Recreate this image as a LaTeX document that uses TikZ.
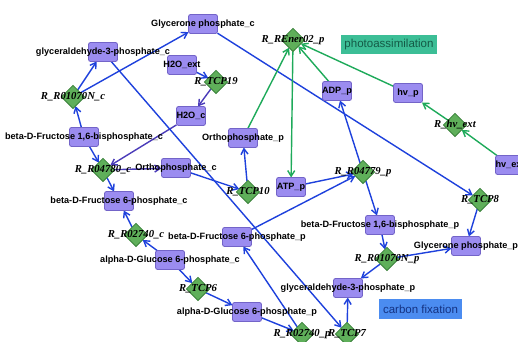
\documentclass[tikz,border=0pt]{standalone}
\usepackage{fontspec}
\setmainfont{Liberation Serif}
\setsansfont{Liberation Sans}
\usepackage{tikz-network}
\usetikzlibrary{shapes.geometric,arrows.meta}

\definecolor{metabfill}{RGB}{155,140,240}
\definecolor{metabline}{RGB}{115,100,200}
\definecolor{rxnfill}{RGB}{95,175,90}
\definecolor{rxnline}{RGB}{60,130,60}
\definecolor{fluxblue}{RGB}{30,65,220}
\definecolor{fluxgreen}{RGB}{30,170,90}
\definecolor{fluxpurple}{RGB}{75,60,185}
\definecolor{photofill}{RGB}{60,190,150}
\definecolor{phototext}{RGB}{20,90,70}
\definecolor{carbfill}{RGB}{75,140,240}
\definecolor{carbtext}{RGB}{20,50,130}

\newcommand{\metabfont}{\fontsize{6.5}{7}\selectfont\sffamily\bfseries}
\newcommand{\rxnfont}{\fontsize{7.6}{8}\selectfont\rmfamily\bfseries\itshape}
\newcommand{\areafont}{\fontsize{8.2}{9}\selectfont\sffamily}

\tikzset{
  metabbox/.style={rectangle, rounded corners=1.5pt, minimum width=0.725cm, minimum height=0.475cm, fill=metabfill, draw=metabline},
  rxndia/.style={diamond, minimum size=0.58cm, fill=rxnfill, draw=rxnline},
  flux/.style={-{Straight Barb[length=4pt,width=5pt]}},
  areabox/.style={rectangle, inner sep=0pt, minimum height=0.48cm},
}

\begin{document}
\begin{tikzpicture}

\SetVertexStyle[LineWidth=0.6, OuterSep=0, InnerSep=0]
\SetEdgeStyle[Color=fluxblue, LineWidth=1]

\useasboundingbox (0,0) rectangle (12.95,8.55);

% metabolites, cytosol
\Vertex[x=5.075,y=7.95,label={Glycerone phosphate\_c},position=center,fontsize=\metabfont,style={metabbox}]{GlyP_c}
\Vertex[x=2.575,y=7.25,label={glyceraldehyde-3-phosphate\_c},position=center,fontsize=\metabfont,style={metabbox}]{GAP_c}
\Vertex[x=4.55,y=6.925,label={H2O\_ext},position=center,fontsize=\metabfont,style={metabbox}]{H2O_ext}
\Vertex[x=4.775,y=5.65,label={H2O\_c},position=center,fontsize=\metabfont,style={metabbox}]{H2O_c}
\Vertex[x=2.1,y=5.125,label={beta-D-Fructose 1,6-bisphosphate\_c},position=center,fontsize=\metabfont,style={metabbox}]{FBP_c}
\Vertex[x=4.4,y=4.35,label={Orthophosphate\_c},position=center,fontsize=\metabfont,style={metabbox}]{Pi_c}
\Vertex[x=2.975,y=3.525,label={beta-D-Fructose 6-phosphate\_c},position=center,fontsize=\metabfont,style={metabbox}]{F6P_c}
\Vertex[x=4.25,y=2.05,label={alpha-D-Glucose 6-phosphate\_c},position=center,fontsize=\metabfont,style={metabbox}]{G6P_c}

% metabolites, plastid
\Vertex[x=6.175,y=0.75,label={alpha-D-Glucose 6-phosphate\_p},position=center,fontsize=\metabfont,style={metabbox}]{G6P_p}
\Vertex[x=5.925,y=2.625,label={beta-D-Fructose 6-phosphate\_p},position=center,fontsize=\metabfont,style={metabbox}]{F6P_p}
\Vertex[x=6.075,y=5.1,label={Orthophosphate\_p},position=center,fontsize=\metabfont,style={metabbox}]{Pi_p}
\Vertex[x=7.275,y=3.875,label={ATP\_p},position=center,fontsize=\metabfont,style={metabbox}]{ATP_p}
\Vertex[x=8.425,y=6.275,label={ADP\_p},position=center,fontsize=\metabfont,style={metabbox}]{ADP_p}
\Vertex[x=10.2,y=6.225,label={hv\_p},position=center,fontsize=\metabfont,style={metabbox}]{hv_p}
\Vertex[x=12.75,y=4.425,label={hv\_ext},position=center,fontsize=\metabfont,style={metabbox}]{hv_ext}
\Vertex[x=9.5,y=2.925,label={beta-D-Fructose 1,6-bisphosphate\_p},position=center,fontsize=\metabfont,style={metabbox}]{FBP_p}
\Vertex[x=11.65,y=2.4,label={Glycerone phosphate\_p},position=center,fontsize=\metabfont,style={metabbox}]{GlyP_p}
\Vertex[x=8.7,y=1.35,label={glyceraldehyde-3-phosphate\_p},position=center,fontsize=\metabfont,style={metabbox}]{GAP_p}

% reactions
\Vertex[x=1.825,y=6.125,label={R\_R01070N\_c},position=center,fontsize=\rxnfont,style={rxndia}]{R01070N_c}
\Vertex[x=5.4,y=6.5,label={R\_TCP19},position=center,fontsize=\rxnfont,style={rxndia}]{TCP19}
\Vertex[x=2.575,y=4.3,label={R\_R04780\_c},position=center,fontsize=\rxnfont,style={rxndia}]{R04780_c}
\Vertex[x=3.4,y=2.675,label={R\_R02740\_c},position=center,fontsize=\rxnfont,style={rxndia}]{R02740_c}
\Vertex[x=4.95,y=1.325,label={R\_TCP6},position=center,fontsize=\rxnfont,style={rxndia}]{TCP6}
\Vertex[x=6.2,y=3.75,label={R\_TCP10},position=center,fontsize=\rxnfont,style={rxndia}]{TCP10}
\Vertex[x=7.325,y=7.55,label={R\_REner02\_p},position=center,fontsize=\rxnfont,style={rxndia}]{REner02_p}
\Vertex[x=11.375,y=5.425,label={R\_hv\_ext},position=center,fontsize=\rxnfont,style={rxndia}]{hv_rxn}
\Vertex[x=9.075,y=4.25,label={R\_R04779\_p},position=center,fontsize=\rxnfont,style={rxndia}]{R04779_p}
\Vertex[x=12.0,y=3.55,label={R\_TCP8},position=center,fontsize=\rxnfont,style={rxndia}]{TCP8}
\Vertex[x=9.675,y=2.075,label={R\_R01070N\_p},position=center,fontsize=\rxnfont,style={rxndia}]{R01070N_p}
\Vertex[x=7.55,y=0.2,label={R\_R02740\_p},position=center,fontsize=\rxnfont,style={rxndia}]{R02740_p}
\Vertex[x=8.675,y=0.2,label={R\_TCP7},position=center,fontsize=\rxnfont,style={rxndia}]{TCP7}

% cytosol fluxes
\Edge[Direct,style=flux](R01070N_c)(GAP_c)
\Edge[Direct,style=flux](R01070N_c)(GlyP_c)
\Edge[Direct,style=flux](FBP_c)(R01070N_c)
\Edge[Direct,style=flux](FBP_c)(R04780_c)
\Edge[Direct,style=flux](R04780_c)(F6P_c)
\Edge[Direct,color=fluxpurple,style=flux](R04780_c)(Pi_c)
\Edge[Direct,color=fluxpurple,style=flux](H2O_c)(R04780_c)
\Edge[Direct,style=flux](H2O_ext)(TCP19)
\Edge[Direct,color=fluxpurple,style=flux](TCP19)(H2O_c)
\Edge[Direct,style=flux](R02740_c)(F6P_c)
\Edge[Direct,style=flux](G6P_c)(R02740_c)
\Edge[Direct,style=flux](G6P_c)(TCP6)
\Edge[Direct,style=flux](TCP6)(G6P_p)

% transport and plastid fluxes
\Edge[Direct,style=flux](GAP_c)(TCP7)
\Edge[Direct,style=flux](GlyP_c)(TCP8)
\Edge[Direct,style=flux](TCP8)(GlyP_p)
\Edge[Direct,style=flux](Pi_c)(TCP10)
\Edge[Direct,style=flux](TCP10)(Pi_p)
\Edge[Direct,style=flux](ATP_p)(R04779_p)
\Edge[Direct,style=flux](R04779_p)(ADP_p)
\Edge[Direct,style=flux](F6P_p)(R04779_p)
\Edge[Direct,style=flux](R04779_p)(FBP_p)
\Edge[Direct,style=flux](FBP_p)(R01070N_p)
\Edge[Direct,style=flux](R01070N_p)(GlyP_p)
\Edge[Direct,style=flux](R01070N_p)(GAP_p)
\Edge[Direct,style=flux](TCP7)(GAP_p)
\Edge[Direct,style=flux](G6P_p)(R02740_p)
\Edge[Direct,style=flux](R02740_p)(F6P_p)

% photoassimilation
\Edge[Direct,color=fluxgreen,style=flux](Pi_p)(REner02_p)
\Edge[Direct,color=fluxgreen,style=flux](ADP_p)(REner02_p)
\Edge[Direct,color=fluxgreen,style=flux](hv_p)(REner02_p)
\Edge[Direct,color=fluxgreen,style=flux](REner02_p)(ATP_p)
\Edge[Direct,color=fluxgreen,style=flux](hv_ext)(hv_rxn)
\Edge[Direct,color=fluxgreen,style=flux](hv_rxn)(hv_p)

\node[areabox, fill=photofill, minimum width=2.4cm] (photo) at (9.725,7.4375) {\areafont\color{phototext}photoassimilation};
\node[areabox, fill=carbfill, minimum width=2.075cm] (carbon) at (10.5125,0.825) {\areafont\color{carbtext}carbon fixation};

\end{tikzpicture}
\end{document}
